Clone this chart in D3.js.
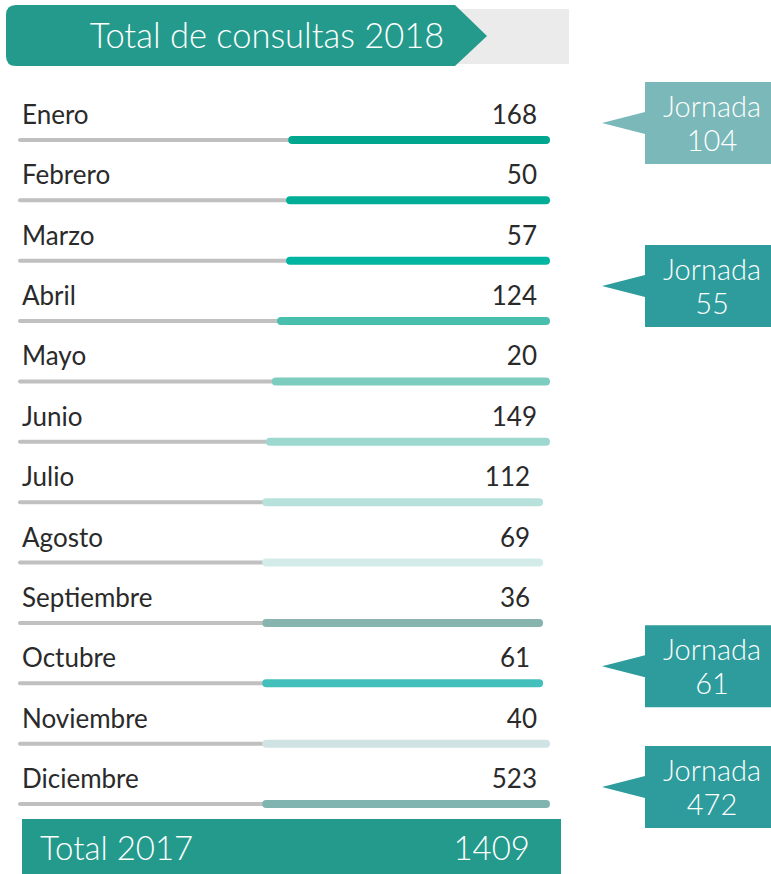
<!DOCTYPE html>
<html>
<head>
<meta charset="utf-8">
<script src="https://cdn.jsdelivr.net/npm/d3@7"></script>
<style>
  body { margin: 0; background: #fff; }
  svg { display: block; font-family: Lato, "Noto Sans", sans-serif; }
</style>
</head>
<body>
<div id="chart"></div>
<script>
const months = ["Enero", "Febrero", "Marzo", "Abril", "Mayo", "Junio", "Julio",
  "Agosto", "Septiembre", "Octubre", "Noviembre", "Diciembre"];
const consultas = [168, 50, 57, 124, 20, 149, 112, 69, 36, 61, 40, 523];
// where the coloured part of each track starts / ends (share of the track)
const barFrom = [0.506, 0.502, 0.502, 0.485, 0.475, 0.464, 0.457, 0.457, 0.457, 0.457, 0.457, 0.457];
const barTo = [1, 1, 1, 1, 1, 1, 0.987, 0.987, 0.987, 0.987, 1, 1];
const barColors = ["#00a68e", "#00ae98", "#00b6a2", "#48bfad", "#7dccc0", "#9dd8cf",
  "#b7e2db", "#d4ece9", "#88b4b0", "#43bfbc", "#cfe3e2", "#7fb4b0"];

// "Jornada" call-outs, attached to a row (fractional row index)
const jornadaRow = [0, 2.7, 9, 11];
const jornadaValue = [104, 55, 61, 472];
const jornadaColor = ["#7ab8b9", "#2e9c9c", "#2e9c9c", "#2e9c9c"];

const title = "Total de consultas 2018";
const totalLabel = "Total 2017";
const totalValue = 1409;

const width = 771, height = 874;
const teal = "#239a8c";

const svg = d3.select("#chart").append("svg")
  .attr("width", width)
  .attr("height", height)
  .attr("viewBox", [0, 0, width, height]);

const x = d3.scaleLinear().domain([0, 1]).range([20, 550]);
const y = d3.scaleLinear().domain([0, months.length - 1]).range([140, 804]);

// title banner
const r = 10;
svg.append("rect")
  .attr("x", 440).attr("y", 9)
  .attr("width", 129).attr("height", 55)
  .attr("fill", "#ebebeb");
svg.append("path")
  .attr("fill", teal)
  .attr("d", `M${6 + r},5 L455,5 L487,36 L455,66 L${6 + r},66 Q6,66 6,${66 - r} L6,${5 + r} Q6,5 ${6 + r},5 Z`);
svg.append("text")
  .attr("x", 267).attr("y", 48)
  .attr("text-anchor", "middle")
  .attr("fill", "#fff")
  .attr("font-size", 34.5)
  .attr("font-weight", 300)
  .text(title);

// rows
const row = svg.append("g")
  .selectAll("g")
  .data(months)
  .join("g");

row.append("line")
  .attr("x1", x(0)).attr("x2", (d, i) => x(barFrom[i]))
  .attr("y1", (d, i) => y(i)).attr("y2", (d, i) => y(i))
  .attr("stroke", "#c0c0c0")
  .attr("stroke-width", 4)
  .attr("stroke-linecap", "round");

row.append("line")
  .attr("x1", (d, i) => x(barFrom[i]) + 4).attr("x2", (d, i) => x(barTo[i]) - 4)
  .attr("y1", (d, i) => y(i)).attr("y2", (d, i) => y(i))
  .attr("stroke", (d, i) => barColors[i])
  .attr("stroke-width", 8)
  .attr("stroke-linecap", "round");

row.append("text")
  .attr("x", 22)
  .attr("y", (d, i) => y(i) - 16)
  .attr("fill", "#2a2a2a")
  .attr("font-size", 26)
  .text(d => d);

row.append("text")
  .attr("x", (d, i) => x(barTo[i]) - 13)
  .attr("y", (d, i) => y(i) - 16)
  .attr("text-anchor", "end")
  .attr("fill", "#2a2a2a")
  .attr("font-size", 26)
  .text((d, i) => consultas[i]);

// total bar
svg.append("rect")
  .attr("x", 22).attr("y", 819)
  .attr("width", 539).attr("height", 60)
  .attr("fill", teal);
svg.append("text")
  .attr("x", 40).attr("y", 860)
  .attr("fill", "#fff")
  .attr("font-size", 33)
  .attr("font-weight", 300)
  .text(totalLabel);
svg.append("text")
  .attr("x", 530).attr("y", 860)
  .attr("text-anchor", "end")
  .attr("fill", "#fff")
  .attr("font-size", 33)
  .attr("font-weight", 300)
  .text(totalValue);

// call-outs
const callout = svg.append("g")
  .selectAll("g")
  .data(jornadaValue)
  .join("g")
  .attr("transform", (d, i) => `translate(0,${y(jornadaRow[i]) - 17})`);

callout.append("path")
  .attr("fill", (d, i) => jornadaColor[i])
  .attr("d", "M645,-41 L775,-41 L775,41 L645,41 L645,11 L602,0 L645,-11 Z");

callout.append("text")
  .attr("x", 712).attr("y", -6)
  .attr("text-anchor", "middle")
  .attr("fill", "#fff")
  .attr("font-size", 29)
  .attr("font-weight", 300)
  .text("Jornada");

callout.append("text")
  .attr("x", 712).attr("y", 28)
  .attr("text-anchor", "middle")
  .attr("fill", "#fff")
  .attr("font-size", 29)
  .attr("font-weight", 300)
  .text(d => d);
</script>
</body>
</html>
